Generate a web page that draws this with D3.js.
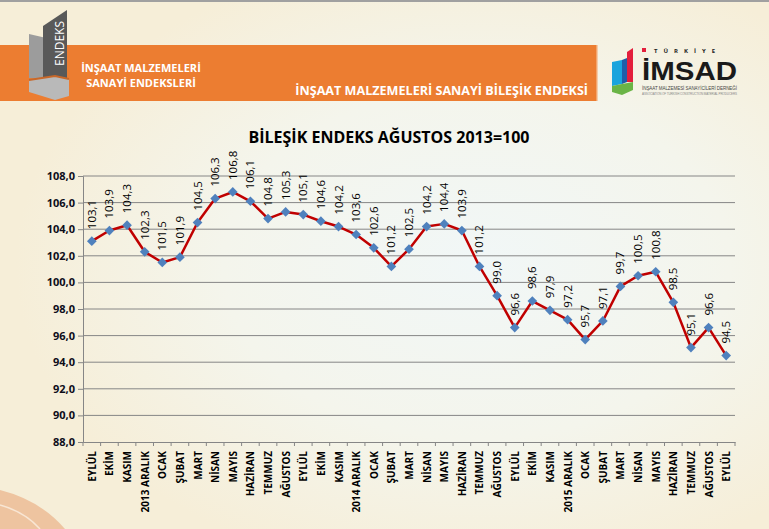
<!DOCTYPE html>
<html><head><meta charset="utf-8">
<script src="https://cdn.jsdelivr.net/npm/d3@7"></script>
<style>html,body{margin:0;padding:0;overflow:hidden;background:#f6f0dc}svg{display:block}</style>
</head><body>
<script>
const categories = ["EYLÜL","EKİM","KASIM","2013 ARALIK","OCAK","ŞUBAT","MART","NİSAN","MAYIS","HAZİRAN","TEMMUZ","AĞUSTOS",
 "EYLÜL","EKİM","KASIM","2014 ARALIK","OCAK","ŞUBAT","MART","NİSAN","MAYIS","HAZİRAN","TEMMUZ","AĞUSTOS",
 "EYLÜL","EKİM","KASIM","2015 ARALIK","OCAK","ŞUBAT","MART","NİSAN","MAYIS","HAZİRAN","TEMMUZ","AĞUSTOS","EYLÜL"];
const values = [103.1,103.9,104.3,102.3,101.5,101.9,104.5,106.3,106.8,106.1,104.8,105.3,
 105.1,104.6,104.2,103.6,102.6,101.2,102.5,104.2,104.4,103.9,101.2,99.0,
 96.6,98.6,97.9,97.2,95.7,97.1,99.7,100.5,100.8,98.5,95.1,96.6,94.5];
const yTicks = [88,90,92,94,96,98,100,102,104,106,108];
const chartTitle = "BİLEŞİK ENDEKS AĞUSTOS 2013=100";
const headerTitle = "İNŞAAT MALZEMELERİ SANAYİ BİLEŞİK ENDEKSİ";
const headerLeft = ["İNŞAAT MALZEMELERİ","SANAYİ ENDEKSLERİ"];

const W=769,H=529;
const svg=d3.select("body").append("svg").attr("width",W).attr("height",H);
const defs=svg.append("defs");
const rg=defs.append("radialGradient").attr("id","bg").attr("cx","0.62").attr("cy","0.5").attr("r","0.6");
rg.append("stop").attr("offset","0").attr("stop-color","#f1f7f7");
rg.append("stop").attr("offset","0.55").attr("stop-color","#f4f5ec");
rg.append("stop").attr("offset","1").attr("stop-color","#f6eed8");
svg.append("rect").attr("width",W).attr("height",H).attr("fill","url(#bg)");
svg.append("rect").attr("width",W).attr("height",2).attr("fill","#a0a0a0");
svg.append("path").attr("d","M0,490 Q40,500 65,529 L0,529 Z").attr("fill","#eec4a0");
svg.append("path").attr("d","M0,505 Q25,512 40,529").attr("fill","none").attr("stroke","#f8e6d4").attr("stroke-width",1.5);

// orange header band
svg.append("rect").attr("x",0).attr("y",45).attr("width",597).attr("height",56).attr("fill","#ec7d31");
svg.append("rect").attr("x",596).attr("y",45).attr("width",1.5).attr("height",56).attr("fill","#f3a56e");

// ENDEKS logo
const lg=svg.append("g");
lg.append("path").attr("d","M29,34 L55,40 L55,80 L29,78 Z").attr("fill","#9c9c9c");
lg.append("path").attr("d","M43,26 L67,10 L67,84 L43,84 Z").attr("fill","#595959");
lg.append("path").attr("d","M29,80 L55,76 L69,79 L69,96 L55,100 L29,92 Z").attr("fill","#b9b9b9");
lg.append("path").attr("d","M29,80 L55,76 L69,79").attr("fill","none").attr("stroke","#c8682a").attr("stroke-width",2);
lg.append("text").attr("transform","translate(64,66) rotate(-90)").attr("fill","#ffffff")
  .attr("font-family","Open Sans, sans-serif").attr("font-size",12).text("ENDEKS");
svg.append("g").selectAll("text").data(headerLeft).join("text")
  .attr("x",141).attr("y",(d,i)=>72+i*15).attr("text-anchor","middle")
  .attr("fill","#ffffff").attr("font-family","Open Sans, sans-serif").attr("font-weight","bold").attr("font-size",11)
  .text(d=>d);
svg.append("text").attr("x",588).attr("y",95).attr("text-anchor","end").attr("fill","#ffffff")
  .attr("font-family","Open Sans, sans-serif").attr("font-weight","bold").attr("font-size",12.6).text(headerTitle);

// IMSAD logo
const il=svg.append("g");
il.append("path").attr("d","M627,52 L633,48 L633,82 L627,82 Z").attr("fill","#e31e3c");
il.append("path").attr("d","M612,62 L622,60 L622,84 L612,86 Z").attr("fill","#1aa4dd");
il.append("path").attr("d","M622,60 L627,58 L627,82 L622,84 Z").attr("fill","#1f5ea8");
il.append("path").attr("d","M612,86 L622,84 L633,82 L633,90 L622,95 L612,92 Z").attr("fill","#6ab446");
il.append("rect").attr("x",642).attr("y",48).attr("width",4).attr("height",4).attr("fill","#e31e3c");
il.append("text").attr("x",654).attr("y",52.5).attr("font-family","Open Sans, sans-serif").attr("font-size",6).attr("font-weight","bold")
  .attr("letter-spacing",6).attr("fill","#222").text("TÜRKİYE");
il.append("text").attr("x",642).attr("y",80).attr("font-family","Liberation Sans Narrow, Arial Narrow, sans-serif").attr("font-size",26).attr("font-weight","bold")
  .attr("fill","#1a1a1a").attr("textLength",95).attr("lengthAdjust","spacingAndGlyphs").text("İMSAD");
il.append("text").attr("x",642).attr("y",90).attr("font-family","Liberation Sans, sans-serif").attr("font-size",4.5)
  .attr("fill","#444").attr("textLength",95).text("İNŞAAT MALZEMESİ SANAYİCİLERİ DERNEĞİ");
il.append("text").attr("x",642).attr("y",95).attr("font-family","Liberation Sans, sans-serif").attr("font-size",3)
  .attr("fill","#888").attr("textLength",95).text("ASSOCIATION OF TURKISH CONSTRUCTION MATERIAL PRODUCERS");

// title
svg.append("text").attr("x",389).attr("y",143).attr("text-anchor","middle").attr("fill","#000")
  .attr("font-family","Open Sans, sans-serif").attr("font-weight","bold").attr("font-size",16).text(chartTitle);

// scales
const x=d3.scaleBand().domain(d3.range(categories.length)).range([83,735]).padding(0);
const y=d3.scaleLinear().domain([88,108]).range([442,176]);
const cx=i=>x(i)+x.bandwidth()/2;

svg.append("g").selectAll("line").data(yTicks.filter(t=>t>88)).join("line")
  .attr("x1",83).attr("x2",735).attr("y1",d=>y(d)).attr("y2",d=>y(d)).attr("stroke","#868686").attr("stroke-width",1);

const yAxis=svg.append("g").attr("transform","translate(83,0)")
  .call(d3.axisLeft(y).tickValues(yTicks).tickSize(5).tickPadding(3).tickFormat(d=>d3.format(".1f")(d).replace(".",",")));
yAxis.selectAll("path,line").attr("stroke","#868686");
yAxis.selectAll("text").attr("font-family","Open Sans, sans-serif").attr("font-weight","bold").attr("font-size",11).attr("fill","#0d0d1a");

const xAxis=svg.append("g").attr("transform","translate(0,442)")
  .call(d3.axisBottom(x).tickSize(0).tickFormat(i=>categories[i]));
xAxis.select("path").attr("stroke","#868686");
xAxis.selectAll("text").attr("text-anchor","end").attr("dy",null).attr("y",null).attr("x",0)
  .attr("font-family","Open Sans, sans-serif").attr("font-weight","bold").attr("font-size",10).attr("fill","#000")
  .attr("transform","translate(4,9) rotate(-90)");
svg.append("g").selectAll("line").data(d3.range(categories.length+1)).join("line")
  .attr("x1",i=>i<categories.length?x(i):735).attr("x2",i=>i<categories.length?x(i):735)
  .attr("y1",442).attr("y2",446).attr("stroke","#868686");

svg.append("path").datum(values).attr("fill","none").attr("stroke","#c00000").attr("stroke-width",2.5)
  .attr("stroke-linejoin","round")
  .attr("d",d3.line().x((d,i)=>cx(i)).y(d=>y(d)));
svg.append("g").selectAll("path").data(values).join("path")
  .attr("transform",(d,i)=>`translate(${cx(i)},${y(d)})`)
  .attr("d",d3.symbol().type(d3.symbolDiamond2).size(60)).attr("fill","#4f81bd");
svg.append("g").selectAll("text").data(values).join("text")
  .attr("transform",(d,i)=>`translate(${cx(i)+4},${y(d)-12}) rotate(-90)`)
  .attr("font-family","Open Sans, sans-serif").attr("font-size",11.5).attr("fill","#000")
  .text(d=>d3.format(".1f")(d).replace(".",","));
</script>
</body></html>
